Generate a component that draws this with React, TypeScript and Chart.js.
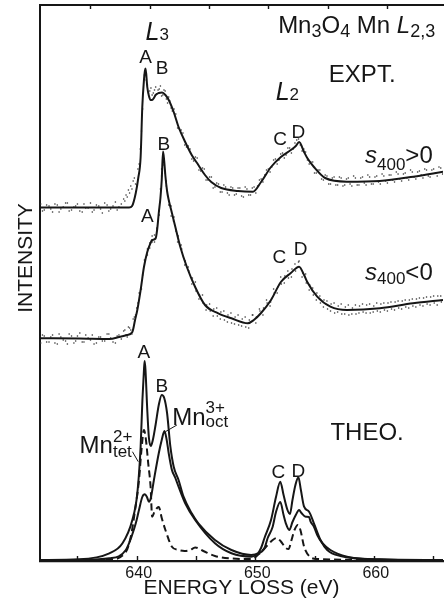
import React, { useEffect, useRef } from 'react';
import { Chart, registerables } from 'chart.js';

Chart.register(...registerables);

// ---------- axis ----------
const energyMin = 631.84;
const energyMax = 665.84;
const frameEnergyMin = 630.74;
const frameEnergyMax = 664.74;
const tickValues = [635, 640, 645, 650, 655, 660, 665];
const intensityMin = 0;
const intensityMax = 556;

// ---------- experimental, s400 > 0 (fit line) ----------
const topFitEnergy = [631.84, 636.85, 639.36, 639.61, 639.92, 640.13, 640.33, 640.47, 640.61, 640.69, 640.75, 640.89, 641.03, 641.17, 641.3, 641.45, 641.59, 641.86, 642.14, 642.42, 642.7, 643.12, 643.53, 644.09, 644.64, 645.2, 645.76, 646.29, 647.13, 648.55, 649.8, 650.49, 651.33, 652.16, 653.0, 653.42, 653.7, 654.12, 654.39, 654.95, 655.9, 657.74, 660.49, 663.33, 665.84];
const topFitIntensity = [353.5, 353.5, 353.5, 355, 368, 383, 404, 454, 481, 490, 492.5, 474, 465, 461, 461, 463, 466, 468, 468.5, 466, 461, 449, 434, 419, 406, 396, 386, 379, 373, 370, 369.3, 379, 394, 404, 411, 415, 419, 409, 403, 394, 383, 379.3, 380, 384.3, 389.3];

// ---------- experimental, s400 > 0 (raw counts, two sweeps) ----------
const topRawEnergy = [631.9, 632.2, 632.6, 632.9, 633.3, 633.6, 634.0, 634.3, 634.7, 635.0, 635.4, 635.7, 636.1, 636.4, 636.8, 637.1, 637.5, 637.8, 638.2, 638.5, 638.9, 639.1, 639.3, 639.5, 639.7, 639.9, 640.1, 640.3, 640.5, 640.8, 641.0, 641.2, 641.4, 641.6, 641.8, 642.0, 642.2, 642.4, 642.6, 642.8, 643.0, 643.3, 643.6, 643.9, 644.2, 644.5, 644.8, 645.1, 645.4, 645.7, 646.0, 646.3, 646.6, 646.9, 647.2, 647.5, 647.8, 648.1, 648.4, 648.7, 649.0, 649.3, 649.6, 649.9, 650.2, 650.5, 650.8, 651.1, 651.4, 651.7, 652.0, 652.3, 652.6, 652.9, 653.2, 653.5, 653.8, 654.1, 654.4, 654.7, 655.0, 655.3, 655.6, 655.9, 656.2, 656.5, 656.8, 657.1, 657.4, 657.7, 658.0, 658.3, 658.6, 658.9, 659.2, 659.5, 659.8, 660.1, 660.4, 660.7, 661.0, 661.3, 661.6, 661.9, 662.2, 662.5, 662.8, 663.1, 663.4, 663.7, 664.0, 664.3, 664.6, 664.9, 665.2, 665.5, 665.8];
const topRawIntensity = [357, 351, 355, 349, 356, 352, 358, 350, 354, 357, 349, 353, 358, 351, 355, 348, 356, 352, 359, 354, 362, 366, 371, 375, 380, 377, 392, 412, 452, 481, 468, 473, 468, 474, 471, 475, 466, 470, 458, 460, 450, 447, 432, 428, 414, 412, 400, 403, 390, 392, 381, 384, 374, 377, 369, 374, 366, 373, 367, 373, 364, 372, 366, 374, 375, 382, 386, 392, 394, 402, 401, 408, 406, 413, 412, 421, 416, 412, 401, 399, 388, 391, 382, 386, 377, 383, 376, 384, 375, 382, 377, 385, 376, 383, 378, 386, 377, 384, 379, 387, 380, 386, 381, 389, 382, 387, 383, 391, 384, 389, 386, 392, 385, 391, 388, 394, 387];
const topRawEnergy2 = [632.05, 632.4, 632.75, 633.1, 633.45, 633.8, 634.15, 634.5, 634.85, 635.2, 635.55, 635.9, 636.25, 636.6, 636.95, 637.3, 637.65, 638.0, 638.35, 638.7, 639.0, 639.2, 639.4, 639.6, 639.8, 640.0, 640.2, 640.4, 640.65, 640.9, 641.1, 641.3, 641.5, 641.7, 641.9, 642.1, 642.3, 642.5, 642.7, 642.9, 643.15, 643.45, 643.75, 644.05, 644.35, 644.65, 644.95, 645.25, 645.55, 645.85, 646.15, 646.45, 646.75, 647.05, 647.35, 647.65, 647.95, 648.25, 648.55, 648.85, 649.15, 649.45, 649.75, 650.05, 650.35, 650.65, 650.95, 651.25, 651.55, 651.85, 652.15, 652.45, 652.75, 653.05, 653.35, 653.65, 653.95, 654.25, 654.55, 654.85, 655.15, 655.45, 655.75, 656.05, 656.35, 656.65, 656.95, 657.25, 657.55, 657.85, 658.15, 658.45, 658.75, 659.05, 659.35, 659.65, 659.95, 660.25, 660.55, 660.85, 661.15, 661.45, 661.75, 662.05, 662.35, 662.65, 662.95, 663.25, 663.55, 663.85, 664.15, 664.45, 664.75, 665.05, 665.35, 665.65];
const topRawIntensity2 = [350, 356, 352, 357, 349, 354, 358, 351, 355, 350, 357, 353, 349, 356, 352, 358, 350, 355, 351, 357, 360, 364, 368, 372, 383, 376, 397, 430, 486, 476, 470, 466, 471, 467, 472, 465, 471, 462, 464, 453, 452, 433, 431, 416, 415, 402, 404, 391, 393, 381, 384, 373, 378, 369, 376, 368, 374, 366, 373, 365, 374, 366, 373, 368, 381, 379, 391, 389, 401, 397, 407, 403, 413, 408, 418, 422, 410, 409, 397, 399, 388, 391, 381, 385, 377, 384, 376, 383, 376, 383, 375, 383, 376, 384, 376, 384, 377, 385, 377, 385, 378, 386, 379, 387, 380, 388, 381, 389, 382, 390, 383, 391, 384, 392, 385, 393];

// ---------- experimental, s400 < 0 (fit line) ----------
const midFitEnergy = [631.84, 635.18, 637.69, 638.52, 639.19, 639.63, 639.86, 640.05, 640.33, 640.61, 640.89, 641.17, 641.3, 641.59, 641.72, 641.86, 642.0, 642.11, 642.22, 642.32, 642.42, 642.56, 642.7, 642.97, 643.26, 643.68, 644.23, 644.93, 645.76, 646.88, 647.99, 649.38, 649.88, 650.49, 651.33, 652.16, 653.0, 653.7, 654.12, 654.39, 655.23, 656.34, 657.74, 660.52, 663.31, 665.84];
const midFitIntensity = [222.7, 222.5, 222, 224, 226, 229, 241, 251, 271, 294, 309, 318, 321, 322.5, 331, 348, 363, 381, 409.5, 400, 385, 370, 361, 348, 334, 314, 294, 274, 256, 247.7, 242.7, 237.7, 241, 248, 261, 279, 288, 294.3, 286, 279, 264.3, 254.3, 251, 252.7, 257.7, 261];

// ---------- experimental, s400 < 0 (raw counts, two sweeps) ----------
const midRawEnergy = [631.9, 632.2, 632.6, 632.9, 633.3, 633.6, 634.0, 634.3, 634.7, 635.0, 635.4, 635.7, 636.1, 636.4, 636.8, 637.1, 637.5, 637.8, 638.2, 638.5, 638.9, 639.1, 639.3, 639.5, 639.7, 639.9, 640.1, 640.3, 640.5, 640.7, 640.9, 641.1, 641.3, 641.5, 641.7, 641.9, 642.0, 642.1, 642.2, 642.3, 642.4, 642.5, 642.7, 642.9, 643.1, 643.3, 643.5, 643.8, 644.1, 644.4, 644.7, 645.0, 645.3, 645.6, 645.9, 646.2, 646.5, 646.8, 647.1, 647.4, 647.7, 648.0, 648.3, 648.6, 648.9, 649.2, 649.5, 649.8, 650.1, 650.4, 650.7, 651.0, 651.3, 651.6, 651.9, 652.2, 652.5, 652.8, 653.1, 653.4, 653.7, 654.0, 654.3, 654.6, 654.9, 655.2, 655.5, 655.8, 656.1, 656.4, 656.7, 657.0, 657.3, 657.6, 657.9, 658.2, 658.5, 658.8, 659.1, 659.4, 659.7, 660.0, 660.3, 660.6, 660.9, 661.2, 661.5, 661.8, 662.1, 662.4, 662.7, 663.0, 663.3, 663.6, 663.9, 664.2, 664.5, 664.8, 665.1, 665.4, 665.7];
const midRawIntensity = [218, 225, 219, 226, 217, 224, 220, 227, 218, 225, 219, 226, 221, 217, 224, 220, 227, 223, 218, 226, 230, 226, 234, 231, 242, 246, 258, 268, 286, 300, 306, 318, 319, 326, 332, 350, 372, 392, 404, 400, 388, 375, 360, 345, 340, 330, 325, 312, 300, 290, 283, 270, 266, 258, 256, 250, 252, 245, 249, 241, 246, 238, 244, 236, 242, 234, 241, 246, 244, 250, 253, 258, 259, 268, 274, 277, 285, 283, 292, 290, 300, 288, 278, 276, 266, 268, 258, 261, 252, 257, 248, 255, 247, 254, 246, 253, 247, 255, 249, 256, 248, 255, 250, 257, 251, 258, 252, 259, 253, 260, 254, 261, 255, 262, 256, 263, 257, 264, 258, 265, 259];
const midRawEnergy2 = [632.05, 632.4, 632.75, 633.1, 633.45, 633.8, 634.15, 634.5, 634.85, 635.2, 635.55, 635.9, 636.25, 636.6, 636.95, 637.3, 637.65, 638.0, 638.35, 638.7, 639.0, 639.2, 639.4, 639.6, 639.8, 640.0, 640.2, 640.4, 640.65, 640.9, 641.1, 641.3, 641.5, 641.7, 641.9, 642.1, 642.3, 642.5, 642.7, 642.9, 643.15, 643.45, 643.75, 644.05, 644.35, 644.65, 644.95, 645.25, 645.55, 645.85, 646.15, 646.45, 646.75, 647.05, 647.35, 647.65, 647.95, 648.25, 648.55, 648.85, 649.15, 649.45, 649.75, 650.05, 650.35, 650.65, 650.95, 651.25, 651.55, 651.85, 652.15, 652.45, 652.75, 653.05, 653.35, 653.65, 653.95, 654.25, 654.55, 654.85, 655.15, 655.45, 655.75, 656.05, 656.35, 656.65, 656.95, 657.25, 657.55, 657.85, 658.15, 658.45, 658.75, 659.05, 659.35, 659.65, 659.95, 660.25, 660.55, 660.85, 661.15, 661.45, 661.75, 662.05, 662.35, 662.65, 662.95, 663.25, 663.55, 663.85, 664.15, 664.45, 664.75, 665.05, 665.35, 665.65];
const midRawIntensity2 = [226, 219, 224, 218, 227, 221, 217, 225, 220, 228, 219, 223, 226, 218, 224, 220, 227, 219, 225, 222, 231, 224, 233, 227, 244, 253, 268, 272, 301, 312, 313, 325, 319, 333, 346, 385, 396, 380, 356, 355, 344, 319, 316, 296, 294, 277, 279, 262, 266, 251, 257, 245, 253, 242, 250, 239, 248, 237, 246, 235, 244, 233, 246, 238, 252, 246, 261, 255, 272, 268, 284, 278, 290, 284, 297, 299, 284, 287, 271, 273, 261, 265, 254, 260, 250, 258, 249, 257, 247, 256, 247, 256, 248, 257, 248, 257, 249, 258, 249, 258, 250, 259, 251, 260, 252, 261, 253, 262, 254, 263, 255, 264, 256, 265, 256, 265];

// ---------- theory: total ----------
const theoTotalEnergy = [631.84, 635.13, 637.69, 638.8, 639.63, 640.05, 640.33, 640.48, 640.61, 640.67, 640.74, 640.89, 641.03, 641.19, 641.36, 641.59, 641.86, 642.11, 642.32, 642.56, 642.84, 643.12, 643.53, 643.95, 644.64, 645.2, 646.6, 647.99, 649.66, 650.22, 650.49, 650.78, 651.33, 651.75, 652.11, 652.39, 652.72, 652.93, 653.14, 653.39, 653.64, 653.85, 654.12, 654.54, 654.95, 655.51, 656.07, 657.18, 660.49, 665.84];
const theoTotalIntensity = [1, 1.7, 7.7, 17.7, 41, 67.7, 114.3, 161, 191, 200, 191, 151, 123, 115, 121, 136, 156, 166, 163, 148, 114.3, 94.3, 81, 64.3, 47.7, 37.7, 21, 11, 6, 7.7, 13, 23, 41, 64, 79.3, 66, 51, 47, 61, 76, 83.7, 71, 54.3, 49.3, 37.7, 21, 11, 5, 1.7, 1];

// ---------- theory: Mn3+ oct ----------
const theoOctEnergy = [631.84, 635.13, 637.69, 639.08, 639.61, 639.92, 640.19, 640.47, 640.69, 640.86, 641.03, 641.19, 641.45, 641.86, 642.11, 642.34, 642.53, 642.7, 642.97, 643.26, 643.53, 644.09, 644.93, 646.6, 647.99, 649.66, 650.22, 650.78, 651.05, 651.47, 651.75, 652.11, 652.39, 652.58, 652.87, 653.14, 653.42, 653.7, 653.9, 654.26, 654.54, 654.67, 654.95, 655.23, 655.65, 656.34, 657.74, 660.49, 665.84];
const theoOctIntensity = [0.5, 1, 2.7, 11, 26, 37.7, 51, 64, 66.7, 64, 59.3, 63, 81, 107.7, 121, 130, 121, 107.7, 91, 83, 74.3, 57.7, 41, 17.7, 7.7, 4.3, 7, 13, 23, 34.3, 49, 59, 46, 37.7, 31, 39, 46, 51, 48, 44.3, 44, 39.3, 34.3, 26, 18, 11, 4.3, 1.5, 0.5];

// ---------- theory: Mn2+ tet ----------
const theoTetEnergy = [631.84, 637.69, 639.08, 639.5, 639.86, 640.19, 640.4, 640.61, 640.78, 640.97, 641.17, 641.3, 641.49, 641.72, 641.86, 642.11, 642.42, 642.97, 643.53, 644.04, 644.51, 644.93, 645.62, 646.6, 647.99, 649.66, 650.49, 651.05, 651.47, 651.8, 652.13, 652.58, 652.81, 653.06, 653.31, 653.6, 653.81, 654.12, 654.54, 655.23, 665.84];
const theoTetIntensity = [0.5, 1.5, 9, 24.3, 51, 81, 111, 131, 121, 97.7, 74.3, 44.3, 49, 53, 54, 43, 31, 14.3, 11, 10, 11, 13.5, 10, 5, 2.5, 2, 9, 16, 21, 23, 20, 13, 12, 21, 31, 36, 31, 14.3, 5, 2, 0.5];

// ---------- styles ----------
const INK = '#161616';
const FONT = '"Liberation Sans", Arial, Helvetica, sans-serif';

type Seg = { t: string; size: number; italic?: boolean; dy?: number; hold?: boolean };
type Note = { x: number; y: number; align: 'left' | 'center'; segs: Seg[] };

const notes: Note[] = [
  { x: 640.75, y: 521, align: 'left', segs: [{ t: 'L', size: 25, italic: true }, { t: '3', size: 17 }] },
  { x: 651.93, y: 527.7, align: 'left', segs: [{ t: 'Mn', size: 24 }, { t: '3', size: 18, dy: 3.5 }, { t: 'O', size: 24 }, { t: '4', size: 18, dy: 3.5 }, { t: ' Mn ', size: 24 }, { t: 'L', size: 24, italic: true }, { t: '2,3', size: 18, dy: 3.5 }] },
  { x: 656.21, y: 479.3, align: 'left', segs: [{ t: 'EXPT.', size: 24 }] },
  { x: 651.72, y: 461, align: 'left', segs: [{ t: 'L', size: 25, italic: true }, { t: '2', size: 17 }] },
  { x: 640.75, y: 497.7, align: 'center', segs: [{ t: 'A', size: 19 }] },
  { x: 642.14, y: 487, align: 'center', segs: [{ t: 'B', size: 19 }] },
  { x: 652.1, y: 416, align: 'center', segs: [{ t: 'C', size: 19 }] },
  { x: 653.63, y: 422.7, align: 'center', segs: [{ t: 'D', size: 19 }] },
  { x: 659.26, y: 398, align: 'left', segs: [{ t: 's', size: 24, italic: true }, { t: '400', size: 17, dy: 7 }, { t: '>0', size: 24 }] },
  { x: 642.28, y: 411, align: 'center', segs: [{ t: 'B', size: 19 }] },
  { x: 640.89, y: 339.3, align: 'center', segs: [{ t: 'A', size: 19 }] },
  { x: 652.03, y: 297.7, align: 'center', segs: [{ t: 'C', size: 19 }] },
  { x: 653.83, y: 306, align: 'center', segs: [{ t: 'D', size: 19 }] },
  { x: 659.26, y: 281, align: 'left', segs: [{ t: 's', size: 24, italic: true }, { t: '400', size: 17, dy: 4 }, { t: '<0', size: 24 }] },
  { x: 640.6, y: 202.7, align: 'center', segs: [{ t: 'A', size: 19 }] },
  { x: 642.11, y: 169.3, align: 'center', segs: [{ t: 'B', size: 19 }] },
  { x: 651.96, y: 82.7, align: 'center', segs: [{ t: 'C', size: 19 }] },
  { x: 653.63, y: 84.3, align: 'center', segs: [{ t: 'D', size: 19 }] },
  { x: 643.0, y: 136, align: 'left', segs: [{ t: 'Mn', size: 24 }, { t: '3+', size: 17, dy: -12, hold: true }, { t: 'oct', size: 17, dy: 2 }] },
  { x: 635.18, y: 107.7, align: 'left', segs: [{ t: 'Mn', size: 24 }, { t: '2+', size: 17, dy: -11.6, hold: true }, { t: 'tet', size: 17, dy: 3.4 }] },
  { x: 656.34, y: 121, align: 'left', segs: [{ t: 'THEO.', size: 24 }] },
];

const leaders = [
  [639.64, 109.3, 640.13, 99.3],
  [642.42, 129.3, 643.39, 136],
];

const pts = (xs: number[], ys: number[]) => xs.map((x, i) => ({ x, y: ys[i] }));
const fontOf = (s: Seg) => `${s.italic ? 'italic ' : ''}${s.size}px ${FONT}`;

const overlay = {
  id: 'overlay',
  afterDatasetsDraw(chart: any) {
    const { ctx, chartArea } = chart;
    const xs = chart.scales.x;
    const xt = chart.scales.xTop;
    const ys = chart.scales.y;
    ctx.save();
    ctx.strokeStyle = INK;
    ctx.lineWidth = 1.4;
    ctx.beginPath();
    xs.ticks.forEach((t: any) => {
      const p = Math.round(xs.getPixelForValue(t.value)) + 0.5;
      ctx.moveTo(p, chartArea.bottom);
      ctx.lineTo(p, chartArea.bottom - 5);
    });
    xt.ticks.forEach((t: any) => {
      const p = Math.round(xt.getPixelForValue(t.value)) + 0.5;
      if (p < chartArea.left + 2 || p > chartArea.right) return;
      ctx.moveTo(p, chartArea.top);
      ctx.lineTo(p, chartArea.top + 4);
    });
    ctx.stroke();

    ctx.lineWidth = 1;
    ctx.beginPath();
    leaders.forEach(([e1, i1, e2, i2]) => {
      ctx.moveTo(xs.getPixelForValue(e1), ys.getPixelForValue(i1));
      ctx.lineTo(xs.getPixelForValue(e2), ys.getPixelForValue(i2));
    });
    ctx.stroke();

    ctx.fillStyle = INK;
    ctx.textBaseline = 'alphabetic';
    ctx.textAlign = 'left';
    notes.forEach((n) => {
      let total = 0;
      n.segs.forEach((s) => {
        ctx.font = fontOf(s);
        if (!s.hold) total += ctx.measureText(s.t).width;
      });
      let cx = xs.getPixelForValue(n.x);
      if (n.align === 'center') cx -= total / 2;
      const by = ys.getPixelForValue(n.y);
      n.segs.forEach((s) => {
        ctx.font = fontOf(s);
        ctx.fillText(s.t, cx, by + (s.dy || 0));
        if (!s.hold) cx += ctx.measureText(s.t).width;
      });
    });

    // y-axis title
    ctx.save();
    ctx.font = `21px ${FONT}`;
    ctx.textAlign = 'center';
    ctx.textBaseline = 'middle';
    ctx.translate(chartArea.left - 15, ys.getPixelForValue(303));
    ctx.rotate(-Math.PI / 2);
    ctx.fillText('INTENSITY', 0, 1);
    ctx.restore();
    ctx.restore();
  },
};

export default function App() {
  const ref = useRef<HTMLCanvasElement | null>(null);
  useEffect(() => {
    if (!ref.current) return;
    const line = (xs: number[], ys: number[], dash: number[] = []) => ({
      data: pts(xs, ys),
      borderColor: INK,
      borderWidth: 2,
      borderDash: dash,
      pointRadius: 0,
      fill: false,
      cubicInterpolationMode: 'monotone' as const,
      order: 1,
    });
    const dots = (xs: number[], ys: number[]) => ({
      data: pts(xs, ys),
      showLine: false,
      pointRadius: 0.8,
      pointBorderWidth: 0,
      pointBackgroundColor: '#333',
      borderColor: '#333',
      order: 2,
    });
    const chart = new Chart(ref.current, {
      type: 'line',
      data: {
        datasets: [
          { label: 's400>0 fit', ...line(topFitEnergy, topFitIntensity) },
          { label: 's400<0 fit', ...line(midFitEnergy, midFitIntensity) },
          { label: 'THEO. total', ...line(theoTotalEnergy, theoTotalIntensity) },
          { label: 'Mn3+ oct', ...line(theoOctEnergy, theoOctIntensity) },
          { label: 'Mn2+ tet', ...line(theoTetEnergy, theoTetIntensity, [7, 4]) },
          { label: 's400>0 raw', ...dots(topRawEnergy.concat(topRawEnergy2), topRawIntensity.concat(topRawIntensity2)) },
          { label: 's400<0 raw', ...dots(midRawEnergy.concat(midRawEnergy2), midRawIntensity.concat(midRawIntensity2)) },
        ] as any,
      },
      options: {
        animation: false,
        responsive: false,
        maintainAspectRatio: false,
        layout: { padding: 0 },
        plugins: { legend: { display: false }, tooltip: { enabled: false } },
        scales: {
          x: {
            type: 'linear',
            position: 'bottom',
            min: energyMin,
            max: energyMax,
            afterBuildTicks: (s: any) => { s.ticks = tickValues.map((v) => ({ value: v })); },
            afterFit: (s: any) => { s.height = 43; },
            grid: { display: true, drawOnChartArea: false, drawTicks: false },
            border: { display: true, width: 2.2, color: INK },
            ticks: {
              autoSkip: false,
              maxRotation: 0,
              padding: 3,
              labelOffset: 2,
              color: INK,
              font: { family: FONT, size: 16 },
              callback: (v: any) => (Number(v) % 10 === 0 ? String(v) : ''),
            },
            title: {
              display: true,
              text: 'ENERGY LOSS (eV)',
              color: INK,
              font: { family: FONT, size: 21 },
              padding: { top: 0, bottom: 3 },
            },
          },
          xTop: {
            type: 'linear',
            position: 'top',
            min: frameEnergyMin,
            max: frameEnergyMax,
            afterBuildTicks: (s: any) => { s.ticks = tickValues.map((v) => ({ value: v })); },
            afterFit: (s: any) => { s.height = 5; },
            grid: { display: true, drawOnChartArea: false, drawTicks: false },
            border: { display: true, width: 2, color: INK },
            ticks: { display: false },
          },
          y: {
            type: 'linear',
            position: 'left',
            min: intensityMin,
            max: intensityMax,
            afterFit: (s: any) => { s.width = 40; },
            grid: { display: true, drawOnChartArea: false, drawTicks: false },
            border: { display: true, width: 2, color: INK },
            ticks: { display: false },
          },
        },
      },
      plugins: [overlay],
    } as any);
    return () => chart.destroy();
  }, []);

  return (
    <div style={{ position: 'fixed', left: 0, top: 0, width: 447, height: 604, background: '#fff' }}>
      <canvas ref={ref} width={447} height={604} style={{ display: 'block' }} />
    </div>
  );
}
